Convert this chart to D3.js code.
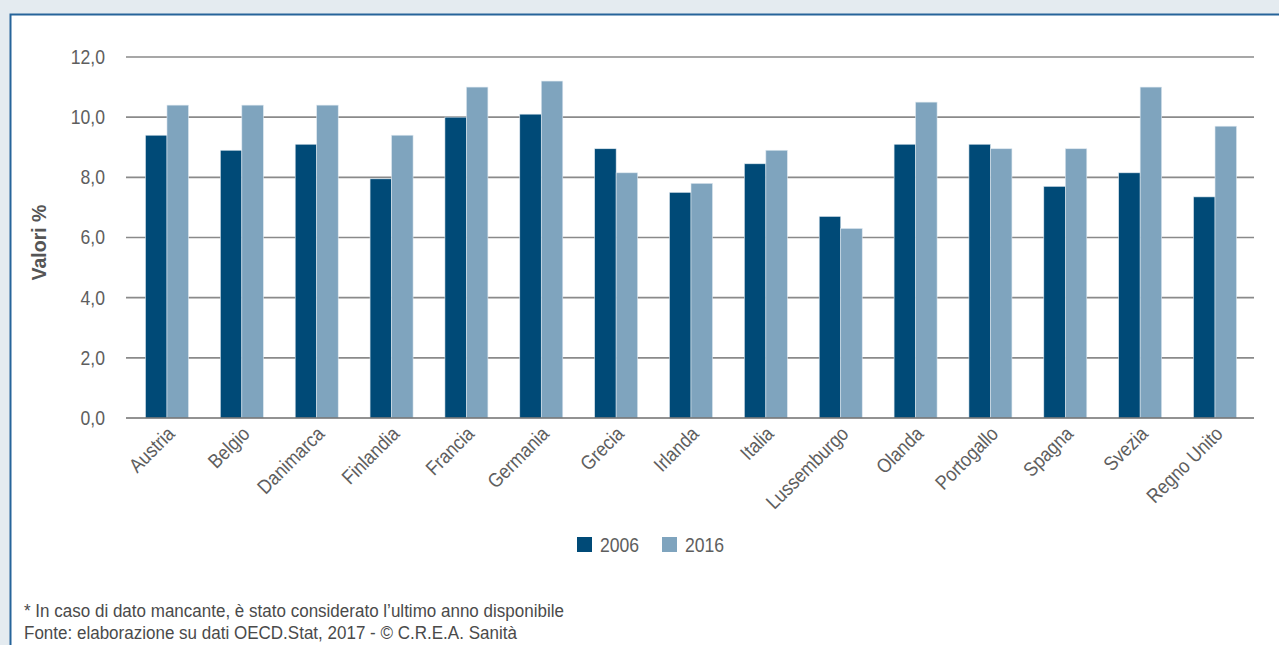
<!DOCTYPE html>
<html>
<head>
<meta charset="utf-8">
<script src="https://cdn.jsdelivr.net/npm/d3@7"></script>
<style>
  html, body { margin: 0; padding: 0; background: #e4ebf0; }
  svg { display: block; }
  text { font-family: "Liberation Sans", Arial, sans-serif; }
</style>
</head>
<body>
<svg id="chart" width="1279" height="645"></svg>
<script>
// Spesa sanitaria in % del PIL, confronto 2006 / 2016
const countries = ["Austria", "Belgio", "Danimarca", "Finlandia", "Francia", "Germania", "Grecia",
  "Irlanda", "Italia", "Lussemburgo", "Olanda", "Portogallo", "Spagna", "Svezia", "Regno Unito"];
const years = ["2006", "2016"];
const values2006 = [9.4, 8.9, 9.1, 7.95, 10.0, 10.1, 8.95, 7.5, 8.45, 6.7, 9.1, 9.1, 7.7, 8.15, 7.35];
const values2016 = [10.4, 10.4, 10.4, 9.4, 11.0, 11.2, 8.15, 7.8, 8.9, 6.3, 10.5, 8.95, 8.95, 11.0, 9.7];
const yTicks = [0, 2, 4, 6, 8, 10, 12];
const colors = ["#004a77", "#7fa4be"];
const notes = [
  "* In caso di dato mancante, è stato considerato l\u2019ultimo anno disponibile",
  "Fonte: elaborazione su dati OECD.Stat, 2017 - \u00a9 C.R.E.A. Sanit\u00e0"
];

const svg = d3.select("#chart");
const NARROW = 0.88;   // horizontal squeeze giving a condensed look to the labels
const textGrey = "#5e5e5e";

// white panel with blue frame on top and left
svg.append("rect").attr("x", 10).attr("y", 14).attr("width", 1280).attr("height", 640)
  .attr("fill", "#ffffff");
svg.append("path").attr("d", "M10.5,660 V14.5 H1290")
  .attr("fill", "none").attr("stroke", "#26649a").attr("stroke-width", 2);

const plot = { left: 126, right: 1254, top: 57, bottom: 418 };

const x = d3.scaleBand().domain(countries).range([128, plot.right]).paddingInner(0.4256).paddingOuter(0.2335);
const xs = d3.scaleBand().domain(years).range([0, x.bandwidth()]);
const y = d3.scaleLinear().domain([0, 12]).range([plot.bottom, plot.top]);

const fmt = d => d3.format(".1f")(d).replace(".", ",");

// gridlines
svg.append("g").selectAll("line").data(yTicks.filter(d => d > 0)).join("line")
  .attr("x1", plot.left).attr("x2", plot.right)
  .attr("y1", d => y(d)).attr("y2", d => y(d))
  .attr("stroke", "#8a8a8a").attr("stroke-width", 1.6);

// y tick labels
const yAxis = d3.axisLeft(y).tickValues(yTicks).tickFormat(fmt).tickSize(0).tickPadding(20);
const gy = svg.append("g").attr("transform", `translate(${plot.left},0)`).call(yAxis);
gy.select(".domain").remove();
gy.selectAll("text").attr("font-size", 20).attr("fill", textGrey)
  .style("font-family", '"Liberation Sans", Arial, sans-serif')
  .attr("x", 0).attr("transform", `translate(-21,0) scale(${NARROW},1)`);

// bars
const series = [values2006, values2016];
const groups = svg.append("g").selectAll("g").data(countries).join("g")
  .attr("transform", d => `translate(${x(d)},0)`);
groups.selectAll("rect").data((c, i) => years.map((yr, k) => ({ yr, v: series[k][i], k })))
  .join("rect")
  .attr("x", d => xs(d.yr))
  .attr("width", xs.bandwidth())
  .attr("y", d => y(d.v))
  .attr("height", d => y(0) - y(d.v))
  .attr("fill", d => colors[d.k])
  .attr("stroke", "#dce7ef").attr("stroke-width", 0.6);

// baseline
svg.append("line").attr("x1", plot.left).attr("x2", plot.right)
  .attr("y1", y(0)).attr("y2", y(0)).attr("stroke", "#6e6e6e").attr("stroke-width", 1.6);

// x axis labels, rotated
const xAxis = d3.axisBottom(x).tickSize(0).tickPadding(0);
const gx = svg.append("g").attr("transform", `translate(0,${plot.bottom})`).call(xAxis);
gx.select(".domain").remove();
gx.selectAll("text")
  .attr("font-size", 20).attr("fill", textGrey)
  .style("font-family", '"Liberation Sans", Arial, sans-serif')
  .attr("text-anchor", "end")
  .attr("dy", null).attr("y", 0)
  .attr("transform", `translate(9,17) rotate(-45) scale(${NARROW},1)`);

// y title
svg.append("text").attr("transform", `translate(46,${(plot.top + plot.bottom) / 2 + 5}) rotate(-90) scale(0.93,1)`)
  .attr("text-anchor", "middle").attr("font-size", 21).attr("font-weight", "bold").attr("fill", "#555")
  .text("Valori %");

// legend
const legend = svg.append("g").attr("transform", "translate(577,537)");
const li = legend.selectAll("g").data(years).join("g").attr("transform", (d, i) => `translate(${i * 85},0)`);
li.append("rect").attr("width", 15).attr("height", 15).attr("fill", (d, i) => colors[i]);
li.append("text").attr("transform", `translate(23,15) scale(${NARROW},1)`)
  .attr("font-size", 20).attr("fill", textGrey).text(d => d);

// notes
svg.append("g").selectAll("text").data(notes).join("text")
  .attr("transform", (d, i) => `translate(24,${617 + i * 22}) scale(0.92,1)`)
  .attr("font-size", 18.5).attr("fill", "#4a4a4a").text(d => d);
</script>
</body>
</html>
